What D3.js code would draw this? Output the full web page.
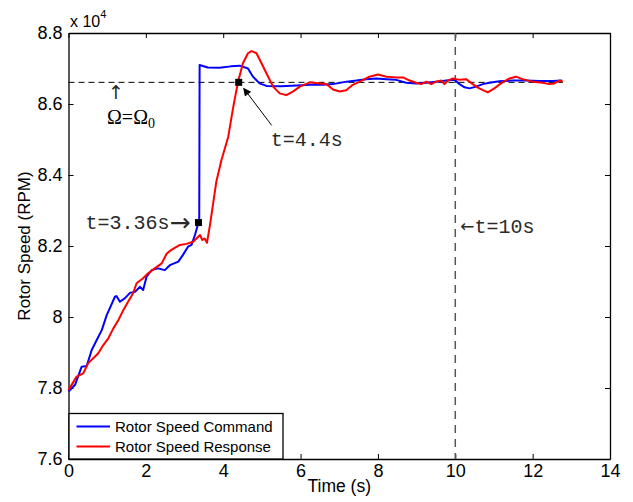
<!DOCTYPE html>
<html>
<head>
<meta charset="utf-8">
<script src="https://cdn.jsdelivr.net/npm/d3@7"></script>
<style>
  body { margin: 0; background: #fff; }
  svg { display: block; }
  .axis text { font-family: "Liberation Sans", Arial, sans-serif; font-size: 18px; fill: #000; }
  .axis path, .axis line { stroke: #000; }
  .mono { font-family: "Liberation Mono", "Courier New", monospace; font-size: 20px; fill: #2a2a2a; }
</style>
</head>
<body>
<div id="vis"></div>
<script>
// time (s) and rotor speed (RPM)
var cmdTime = [0, 0.17, 0.34, 0.47, 0.6, 0.73, 0.86, 0.99, 1.07, 1.2, 1.24, 1.33, 1.46, 1.59, 1.72, 1.85, 1.93,
  2.02, 2.15, 2.32, 2.49, 2.62, 2.84, 2.96, 3.09, 3.18, 3.27, 3.36, 3.38, 3.39, 3.6, 3.9, 4.2, 4.43, 4.64,
  4.77, 4.94, 5.12, 5.5, 5.9, 6.24, 6.58, 6.84, 7.19, 7.44, 7.7, 7.96, 8.22, 8.47, 8.73, 8.99, 9.25, 9.51,
  9.77, 9.98, 10.11, 10.24, 10.37, 10.54, 10.71, 10.88, 11.14, 11.48, 11.83, 12.17, 12.52, 12.76];
var cmdRpm = [77900, 78090, 78600, 78620, 79070, 79350, 79630, 80060, 80250, 80570, 80590, 80430, 80530, 80680, 80710, 80850, 80760,
  81140, 81320, 81370, 81320, 81460, 81560, 81750, 81980, 82030, 82310, 82660, 82700, 87100, 87030, 87020, 87060, 87080, 87000,
  86770, 86580, 86510, 86500, 86520, 86540, 86540, 86560, 86630, 86660, 86700, 86720, 86700, 86680, 86600, 86580, 86600, 86630,
  86660, 86680, 86560, 86470, 86440, 86490, 86560, 86600, 86640, 86660, 86660, 86650, 86650, 86660];

var respTime = [0, 0.21, 0.38, 0.51, 0.68, 0.77, 0.9, 1.03, 1.16, 1.29, 1.42, 1.54, 1.67, 1.76, 1.93, 2.06, 2.23,
  2.41, 2.54, 2.66, 2.88, 3.05, 3.22, 3.31, 3.4, 3.46, 3.52, 3.58, 3.65, 3.74, 3.82, 3.95, 4.13, 4.26, 4.38,
  4.51, 4.64, 4.73, 4.86, 4.99, 5.12, 5.29, 5.46, 5.63, 5.8, 5.98, 6.24, 6.49, 6.67, 6.84, 7.01, 7.18, 7.35,
  7.53, 7.78, 8.0, 8.22, 8.47, 8.65, 8.82, 8.99, 9.12, 9.25, 9.38, 9.5, 9.64, 9.72, 9.81, 9.94, 10.11, 10.28,
  10.45, 10.62, 10.84, 11.01, 11.18, 11.4, 11.57, 11.74, 12.0, 12.26, 12.43, 12.56, 12.69, 12.78];
var respRpm = [77940, 78320, 78410, 78700, 78880, 78980, 79210, 79400, 79680, 79915, 80200, 80430, 80670, 80950, 81090, 81230, 81370,
  81510, 81790, 81890, 82030, 82060, 82120, 82210, 82310, 82170, 82210, 82090, 82540, 83200, 83800, 84400, 85080, 85920, 86610,
  87150, 87430, 87490, 87430, 87150, 86860, 86490, 86300, 86250, 86350, 86490, 86610, 86580, 86560, 86410, 86350, 86390, 86540,
  86630, 86770, 86830, 86770, 86750, 86750, 86660, 86600, 86560, 86630, 86560, 86630, 86660, 86560, 86660, 86720, 86680, 86700,
  86560, 86440, 86330, 86440, 86580, 86720, 86770, 86700, 86630, 86600, 86560, 86580, 86660, 86630];

var seriesNames = ["Rotor Speed Command", "Rotor Speed Response"];
var seriesColors = ["#0000ff", "#ff0000"];

var omega0 = 86610;
var omegaEnd = 12.78;
var markerTime = [3.36, 4.4];
var markerRpm = [82660, 86610];
var eventTime = 10;

var xTicks = [0, 2, 4, 6, 8, 10, 12, 14];
var yTicks = [76000, 78000, 80000, 82000, 84000, 86000, 88000];

var W = 633, H = 502;
var margin = {top: 33, right: 23, bottom: 43, left: 68.5};
var width = W - margin.left - margin.right;
var height = H - margin.top - margin.bottom;

var svg = d3.select("#vis").append("svg").attr("width", W).attr("height", H);
var g = svg.append("g").attr("transform", "translate(" + margin.left + "," + margin.top + ")");

var x = d3.scaleLinear().domain([0, 14]).range([0, width]);
var y = d3.scaleLinear().domain([76000, 88000]).range([height, 0]);

function yFmt(v) { return String(+(v / 1e4).toFixed(1)); }

// axes (MATLAB style box, ticks inward)
g.append("g").attr("class", "axis")
  .attr("transform", "translate(0," + height + ")")
  .call(d3.axisBottom(x).tickValues(xTicks).tickSizeInner(-5).tickSizeOuter(0).tickPadding(5));
g.append("g").attr("class", "axis")
  .call(d3.axisLeft(y).tickValues(yTicks).tickFormat(yFmt).tickSizeInner(-5).tickSizeOuter(0).tickPadding(6));
g.append("g").attr("class", "axis")
  .call(d3.axisTop(x).tickValues(xTicks).tickFormat("").tickSizeInner(-5).tickSizeOuter(0));
g.append("g").attr("class", "axis")
  .attr("transform", "translate(" + width + ",0)")
  .call(d3.axisRight(y).tickValues(yTicks).tickFormat("").tickSizeInner(-5).tickSizeOuter(0));
g.selectAll(".axis path").attr("stroke-width", 1.3);

// reference lines
g.append("line")
  .attr("x1", x(0)).attr("x2", x(omegaEnd))
  .attr("y1", y(omega0)).attr("y2", y(omega0))
  .attr("stroke", "#000").attr("stroke-width", 1).attr("stroke-dasharray", "6,4");
g.append("line")
  .attr("x1", x(eventTime)).attr("x2", x(eventTime))
  .attr("y1", 0).attr("y2", height)
  .attr("stroke", "#555").attr("stroke-width", 1.5).attr("stroke-dasharray", "8,6");

// curves
var line = d3.line().x(function(d) { return x(d[0]); }).y(function(d) { return y(d[1]); });
var series = [d3.zip(cmdTime, cmdRpm), d3.zip(respTime, respRpm)];
g.selectAll(".curve").data(series).enter()
  .append("path")
  .attr("class", "curve")
  .attr("d", line)
  .attr("fill", "none")
  .attr("stroke", function(d, i) { return seriesColors[i]; })
  .attr("stroke-width", 2)
  .attr("stroke-linejoin", "round");

// markers
g.selectAll(".mark").data(d3.zip(markerTime, markerRpm)).enter()
  .append("rect")
  .attr("class", "mark")
  .attr("x", function(d) { return x(d[0]) - 3.5; })
  .attr("y", function(d) { return y(d[1]) - 3.5; })
  .attr("width", 7).attr("height", 7)
  .attr("fill", "#000");

// annotations
var m0x = x(markerTime[0]), m0y = y(markerRpm[0]);
var m1x = x(markerTime[1]), m1y = y(markerRpm[1]);

g.append("text").attr("class", "mono").attr("x", m0x - 113).attr("y", m0y + 6).text("t=3.36s");
g.append("text").attr("x", m0x - 29).attr("y", m0y + 8)
  .attr("font-family", "DejaVu Sans").attr("font-size", 25).attr("fill", "#2a2a2a").text("→");

g.append("text").attr("class", "mono").attr("x", m1x + 32).attr("y", m1y + 64).text("t=4.4s");

svg.append("defs").append("marker")
  .attr("id", "head").attr("viewBox", "0 0 10 10")
  .attr("refX", 9).attr("refY", 5)
  .attr("markerWidth", 11).attr("markerHeight", 8)
  .attr("markerUnits", "userSpaceOnUse")
  .attr("orient", "auto")
  .append("path").attr("d", "M0,0 L10,5 L0,10 z").attr("fill", "#000");
g.append("line")
  .attr("x1", m1x + 33).attr("y1", m1y + 43)
  .attr("x2", m1x + 5).attr("y2", m1y + 6)
  .attr("stroke", "#000").attr("stroke-width", 1)
  .attr("marker-end", "url(#head)");

var t3 = g.append("text").attr("class", "mono").attr("x", x(eventTime) + 5).attr("y", y(omega0) + 151);
t3.append("tspan").attr("font-family", "DejaVu Sans").attr("font-size", 17).attr("dy", -1).text("←");
t3.append("tspan").attr("dy", 1).text("t=10s");

g.append("text").attr("x", 47.5).attr("y", y(omega0) + 17)
  .attr("font-family", "DejaVu Sans").attr("font-size", 19).attr("text-anchor", "middle")
  .attr("fill", "#2a2a2a").text("↑");
var om = g.append("text").attr("x", 38.5).attr("y", y(omega0) + 42)
  .attr("font-family", "Liberation Serif").attr("font-size", 20).attr("fill", "#000");
om.append("tspan").text("Ω=Ω");
om.append("tspan").attr("font-size", 14).attr("dy", 4).text("0");

// axis titles
svg.append("text")
  .attr("transform", "translate(30," + (margin.top + height / 2) + ") rotate(-90)")
  .attr("text-anchor", "middle")
  .attr("font-family", "Liberation Sans").attr("font-size", 17)
  .text("Rotor Speed (RPM)");
svg.append("text")
  .attr("x", margin.left + width / 2).attr("y", 492)
  .attr("text-anchor", "middle")
  .attr("font-family", "Liberation Sans").attr("font-size", 17.5)
  .text("Time (s)");
var mult = svg.append("text").attr("x", 70).attr("y", 27)
  .attr("font-family", "Liberation Sans").attr("font-size", 16);
mult.append("tspan").text("x 10");
mult.append("tspan").attr("font-size", 11).attr("dy", -9).text("4");

// legend
var leg = g.append("g").attr("transform", "translate(0," + (height - 45.5) + ")");
leg.append("rect").attr("x", 0.5).attr("y", 0).attr("width", 214).attr("height", 45.5)
  .attr("fill", "#fff").attr("stroke", "#000").attr("stroke-width", 1.3);
var item = leg.selectAll(".item").data(seriesNames).enter()
  .append("g").attr("class", "item")
  .attr("transform", function(d, i) { return "translate(0," + (13 + i * 20) + ")"; });
item.append("line").attr("x1", 8).attr("x2", 41.5).attr("y1", 0).attr("y2", 0)
  .attr("stroke", function(d, i) { return seriesColors[i]; }).attr("stroke-width", 2);
item.append("text").attr("x", 46.5).attr("y", 5.5)
  .attr("font-family", "Liberation Sans").attr("font-size", 15)
  .text(function(d) { return d; });
</script>
</body>
</html>
